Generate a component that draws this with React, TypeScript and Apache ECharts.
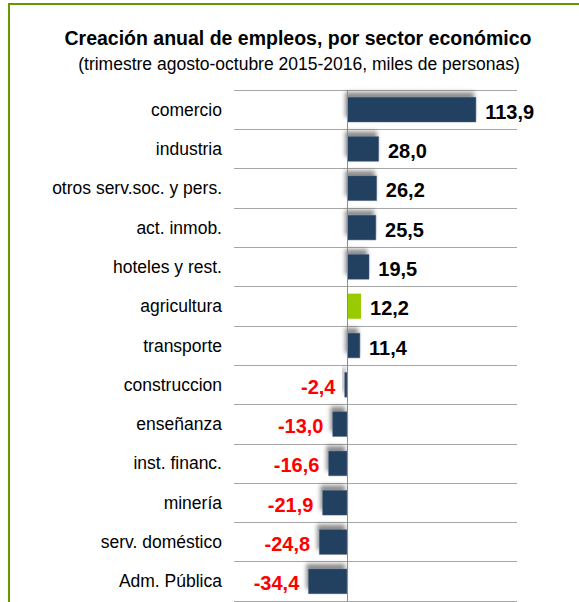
import React, { useEffect, useRef } from "react";
import * as echarts from "echarts";

const categories = [
  "comercio",
  "industria",
  "otros serv.soc. y pers.",
  "act. inmob.",
  "hoteles y rest.",
  "agricultura",
  "transporte",
  "construccion",
  "enseñanza",
  "inst. financ.",
  "minería",
  "serv. doméstico",
  "Adm. Pública",
];
const values = [113.9, 28.0, 26.2, 25.5, 19.5, 12.2, 11.4, -2.4, -13.0, -16.6, -21.9, -24.8, -34.4];
const highlight = "agricultura";
const titleText = "Creación anual de empleos, por sector económico";
const subtitleText = "(trimestre agosto-octubre 2015-2016, miles de personas)";

const SANS = '"Liberation Sans", Arial, sans-serif';

export default function App() {
  const ref = useRef<HTMLDivElement>(null);
  useEffect(() => {
    if (!ref.current) return;
    const chart = echarts.init(ref.current, null, { renderer: "svg" });
    const fmt = (v: number) => v.toFixed(1).replace(".", ",");
    const data = values.map((v, i) => {
      const isHi = categories[i] === highlight;
      return {
        value: v,
        itemStyle: isHi
          ? { color: "#99CC00", shadowBlur: 0, shadowColor: "rgba(0,0,0,0)" }
          : {
              color: "#243F60",
              borderColor: "#4A5F7A",
              borderWidth: 0.5,
              shadowBlur: 4,
              shadowOffsetX: -2,
              shadowOffsetY: -5,
              shadowColor: "rgba(0,0,0,0.45)",
            },
        label: {
          show: true,
          position: v >= 0 ? "right" : "left",
          distance: 9,
          offset: [0, 2],
          color: v >= 0 ? "#000000" : "#FF0000",
          fontFamily: SANS,
          fontWeight: "bold",
          fontSize: 20,
          formatter: () => fmt(v),
        },
      };
    });
    chart.setOption({
      animation: false,
      backgroundColor: "#ffffff",
      graphic: [
        { type: "rect", shape: { x: 8, y: 3, width: 571, height: 2 }, style: { fill: "#669900" } },
        { type: "rect", shape: { x: 8, y: 3, width: 2, height: 599 }, style: { fill: "#669900" } },
        {
          type: "text",
          x: 298,
          y: 38,
          style: {
            text: titleText,
            align: "center",
            verticalAlign: "middle",
            fontFamily: SANS,
            fontWeight: "bold",
            fontSize: 19.5,
            fill: "#000",
          },
        },
        {
          type: "text",
          x: 299,
          y: 64,
          style: {
            text: subtitleText,
            align: "center",
            verticalAlign: "middle",
            fontFamily: SANS,
            fontSize: 17.5,
            fill: "#000",
          },
        },
      ],
      grid: { left: 234, top: 90, width: 283, height: 511, containLabel: false },
      xAxis: {
        type: "value",
        min: -100,
        max: 150,
        show: false,
        splitLine: { show: false },
      },
      yAxis: {
        type: "category",
        data: categories,
        inverse: true,
        boundaryGap: true,
        axisLine: { show: false },
        axisTick: { show: false },
        axisLabel: {
          interval: 0,
          margin: 12,
          color: "#000",
          fontFamily: SANS,
          fontSize: 17.5,
        },
        splitLine: { show: true, interval: 0, lineStyle: { color: "#A6A6A6", width: 1 } },
      },
      series: [
        {
          type: "bar",
          data,
          barWidth: "64%",
          markLine: {
            silent: true,
            symbol: "none",
            label: { show: false },
            lineStyle: { color: "#8C8C8C", width: 1, type: "solid" },
            data: [{ xAxis: 0 }],
          },
        },
      ],
    });
    return () => chart.dispose();
  }, []);
  return <div ref={ref} style={{ width: 579, height: 602, position: "absolute", left: 0, top: 0 }} />;
}
